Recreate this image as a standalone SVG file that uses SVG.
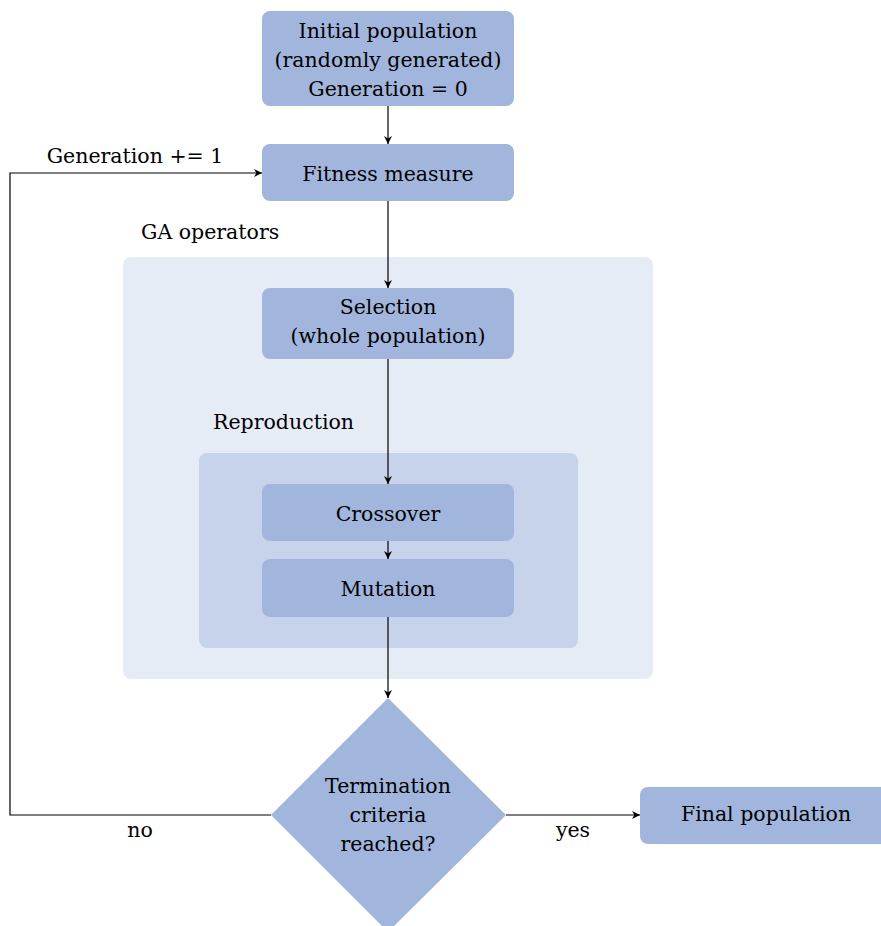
<svg xmlns="http://www.w3.org/2000/svg" width="881" height="926" viewBox="0 0 881 926">
<style>
text{font-family:"DejaVu Serif","Liberation Serif",serif;font-size:20.5px;fill:#000;text-anchor:middle}
.node{fill:#a2b6dd}
.lbl{text-anchor:start}
.con{fill:none;stroke:#000;stroke-width:1.2}
</style>
<defs>
<marker id="ah" viewBox="0 0 10 10" refX="10" refY="5" markerWidth="8" markerHeight="8" markerUnits="userSpaceOnUse" orient="auto">
<path d="M0,0 L10,5 L0,10 L3,5 Z" fill="#000"/>
</marker>
</defs>
<rect width="881" height="926" fill="#fff"/>
<g id="ga-operators">
<rect x="123" y="257" width="530" height="422" rx="8" fill="#e6ecf6"/>
<text class="lbl" x="141" y="239">GA operators</text>
</g>
<g id="reproduction">
<rect x="199" y="453" width="379" height="195" rx="8" fill="#c6d3ea"/>
<text class="lbl" x="213" y="429">Reproduction</text>
</g>
<g id="connectors">
<line class="con" x1="388" y1="106" x2="388" y2="144" marker-end="url(#ah)"/>
<line class="con" x1="388" y1="201" x2="388" y2="288" marker-end="url(#ah)"/>
<line class="con" x1="388" y1="359" x2="388" y2="484" marker-end="url(#ah)"/>
<line class="con" x1="388" y1="541" x2="388" y2="559" marker-end="url(#ah)"/>
<line class="con" x1="388" y1="617" x2="388" y2="698" marker-end="url(#ah)"/>
<polyline class="con" points="271,815 10,815 10,173 262,173" marker-end="url(#ah)"/>
<line class="con" x1="506" y1="815" x2="640" y2="815" marker-end="url(#ah)"/>
<text x="135" y="163">Generation += 1</text>
<text x="140" y="837">no</text>
<text x="573" y="837">yes</text>
</g>
<g id="initial">
<rect class="node" x="262" y="11" width="252" height="95" rx="8"/>
<text x="388" y="38">Initial population</text>
<text x="388" y="67">(randomly generated)</text>
<text x="388" y="96">Generation = 0</text>
</g>
<g id="fitness">
<rect class="node" x="262" y="144" width="252" height="57" rx="8"/>
<text x="388" y="181">Fitness measure</text>
</g>
<g id="selection">
<rect class="node" x="262" y="288" width="252" height="71" rx="8"/>
<text x="388" y="314">Selection</text>
<text x="388" y="343">(whole population)</text>
</g>
<g id="crossover">
<rect class="node" x="262" y="484" width="252" height="57" rx="8"/>
<text x="388" y="521">Crossover</text>
</g>
<g id="mutation">
<rect class="node" x="262" y="559" width="252" height="58" rx="8"/>
<text x="388" y="596">Mutation</text>
</g>
<g id="termination">
<polygon class="node" points="388,698 506,815 388,932 271,815"/>
<text x="388" y="793">Termination</text>
<text x="388" y="822">criteria</text>
<text x="388" y="851">reached?</text>
</g>
<g id="final">
<rect class="node" x="640" y="787" width="252" height="57" rx="8"/>
<text x="766" y="821">Final population</text>
</g>
</svg>
